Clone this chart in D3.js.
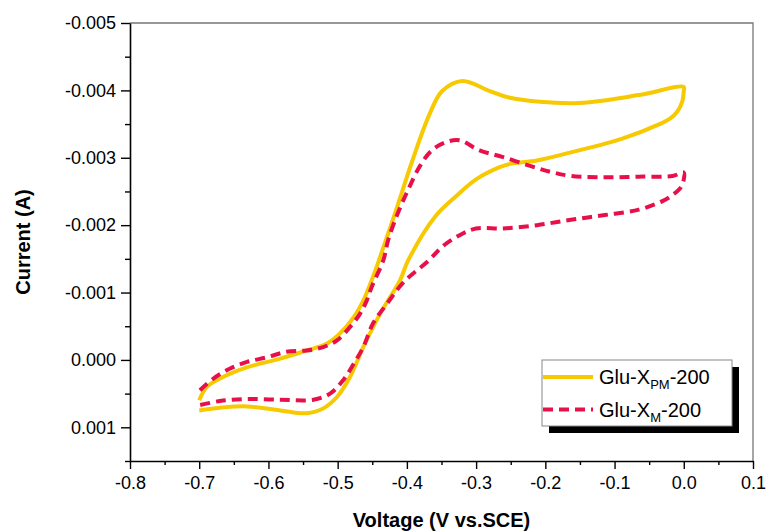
<!DOCTYPE html>
<html>
<head>
<meta charset="utf-8">
<script src="https://cdn.jsdelivr.net/npm/d3@7"></script>
<style>
  body { margin: 0; background: #fff; }
  svg { display: block; font-family: "Liberation Sans", Arial, sans-serif; }
</style>
</head>
<body>
<svg id="chart" width="766" height="532"></svg>
<script>
// CV data (voltage in V, current in A)
const yellowV = [-0.700,-0.689,-0.665,-0.631,-0.583,-0.545,-0.516,-0.497,-0.477,-0.463,-0.451,-0.442,-0.417,-0.393,-0.368,-0.349,-0.320,-0.280,-0.251,-0.158,-0.065,0.000,0.000,-0.002,-0.009,-0.020,-0.035,-0.090,-0.163,-0.212,-0.251,-0.266,-0.300,-0.329,-0.359,-0.398,-0.410,-0.439,-0.463,-0.482,-0.501,-0.521,-0.545,-0.583,-0.631,-0.670,-0.700];
const yellowI = [0.00060,0.00040,0.00025,0.00011,-0.00002,-0.00014,-0.00024,-0.00039,-0.00063,-0.00088,-0.00118,-0.00143,-0.00218,-0.00293,-0.00363,-0.00399,-0.00414,-0.00399,-0.00389,-0.00381,-0.00393,-0.00405,-0.00399,-0.00384,-0.00369,-0.00358,-0.00350,-0.00328,-0.00308,-0.00296,-0.00291,-0.00286,-0.00268,-0.00243,-0.00213,-0.00148,-0.00118,-0.00068,-0.00019,0.00025,0.00055,0.00072,0.00079,0.00075,0.00069,0.00071,0.00075];

const redV = [-0.699,-0.680,-0.656,-0.631,-0.602,-0.574,-0.545,-0.521,-0.501,-0.482,-0.468,-0.458,-0.451,-0.434,-0.427,-0.413,-0.398,-0.381,-0.364,-0.344,-0.324,-0.295,-0.261,-0.222,-0.192,-0.163,-0.114,-0.065,-0.016,0.000,0.000,-0.005,-0.016,-0.030,-0.065,-0.114,-0.163,-0.212,-0.261,-0.300,-0.324,-0.349,-0.368,-0.405,-0.429,-0.449,-0.463,-0.477,-0.492,-0.511,-0.535,-0.583,-0.631,-0.670,-0.699];
const redI = [0.00045,0.00028,0.00013,0.00003,-0.00004,-0.00012,-0.00014,-0.00019,-0.00029,-0.00049,-0.00068,-0.00088,-0.00108,-0.00148,-0.00178,-0.00218,-0.00253,-0.00288,-0.00311,-0.00323,-0.00326,-0.00311,-0.00301,-0.00288,-0.00279,-0.00273,-0.00271,-0.00272,-0.00273,-0.00278,-0.00268,-0.00255,-0.00245,-0.00236,-0.00223,-0.00215,-0.00208,-0.00200,-0.00195,-0.00195,-0.00185,-0.00168,-0.00148,-0.00115,-0.00083,-0.00054,-0.00019,0.00006,0.00030,0.00050,0.00059,0.00059,0.00058,0.00061,0.00067];

const xTicks = [-0.8,-0.7,-0.6,-0.5,-0.4,-0.3,-0.2,-0.1,0.0,0.1];
const yTicks = [-0.005,-0.004,-0.003,-0.002,-0.001,0.000,0.001];
const seriesNames = ["Glu-X|PM|-200", "Glu-X|M|-200"];
const seriesColors = ["#f7c900", "#e8104a"];

const svg = d3.select("#chart");
const mLeft = 130, mRight = 753, mTop = 23, mBottom = 461;

const x = d3.scaleLinear().domain([-0.8, 0.1]).range([mLeft, mRight]);
const y = d3.scaleLinear().domain([-0.005, 0.0015]).range([mTop, mBottom]);

const fmt = (f) => (d) => d3.format(f)(d).replace("\u2212", "-");

// top/right frame
svg.append("path")
  .attr("d", `M${mLeft},${mTop}H${mRight}V${mBottom}`)
  .attr("fill", "none").attr("stroke", "#777").attr("stroke-width", 1.3);

// minor ticks
svg.append("g").attr("transform", `translate(0,${mBottom})`)
  .call(d3.axisBottom(x).tickValues(d3.range(-0.75, 0.1, 0.1)).tickSize(4).tickFormat("").tickSizeOuter(0))
  .call(g => g.select(".domain").remove());
svg.append("g").attr("transform", `translate(${mLeft},0)`)
  .call(d3.axisLeft(y).tickValues(d3.range(-0.0045, 0.0016, 0.001)).tickSize(5).tickFormat("").tickSizeOuter(0))
  .call(g => g.select(".domain").remove());

svg.append("g").attr("transform", `translate(0,${mBottom})`)
  .call(d3.axisBottom(x).tickValues(xTicks).tickFormat(fmt(".1f")).tickSize(8).tickPadding(7).tickSizeOuter(0));
svg.append("g").attr("transform", `translate(${mLeft},0)`)
  .call(d3.axisLeft(y).tickValues(yTicks).tickFormat(fmt(".3f")).tickSize(9).tickPadding(5).tickSizeOuter(0));

svg.selectAll(".tick line").attr("stroke", "#000").attr("stroke-width", 1.4);
svg.selectAll(".domain").attr("stroke", "#000").attr("stroke-width", 1.6);
svg.selectAll(".tick text").attr("font-size", 18).attr("fill", "#000")
  .attr("font-family", "'Liberation Sans', Arial, sans-serif");

// axis titles
svg.append("text").attr("x", (mLeft + mRight) / 2).attr("y", 527)
  .attr("text-anchor", "middle").attr("font-size", 20).attr("font-weight", "bold")
  .text("Voltage (V vs.SCE)");
svg.append("text").attr("transform", `translate(30,${(mTop + mBottom) / 2}) rotate(-90)`)
  .attr("text-anchor", "middle").attr("font-size", 20).attr("font-weight", "bold")
  .text("Current (A)");

// curves
const line = d3.line().x(d => x(d[0])).y(d => y(d[1])).curve(d3.curveCatmullRom.alpha(0.5));
const yellow = yellowV.map((v, i) => [v, yellowI[i]]);
const red = redV.map((v, i) => [v, redI[i]]);

svg.append("path").datum(yellow).attr("d", line)
  .attr("fill", "none").attr("stroke", seriesColors[0]).attr("stroke-width", 4)
  .attr("stroke-linejoin", "round");
svg.append("path").datum(red).attr("d", line)
  .attr("fill", "none").attr("stroke", seriesColors[1]).attr("stroke-width", 4)
  .attr("stroke-dasharray", "10,6");

// legend
const lg = svg.append("g").attr("transform", "translate(542,360)");
lg.append("rect").attr("x", 7).attr("y", 7).attr("width", 190).attr("height", 66).attr("fill", "#000");
lg.append("rect").attr("width", 190).attr("height", 66).attr("fill", "#fff")
  .attr("stroke", "#888").attr("stroke-width", 1);

seriesNames.forEach((name, i) => {
  const yy = 17 + i * 32.5;
  lg.append("line").attr("x1", 1).attr("x2", 51).attr("y1", yy).attr("y2", yy)
    .attr("stroke", seriesColors[i]).attr("stroke-width", 4)
    .attr("stroke-dasharray", i === 1 ? "10,6" : null);
  const parts = name.split("|");
  const t = lg.append("text").attr("x", 57).attr("y", yy + 7).attr("font-size", 20).attr("fill", "#000");
  t.append("tspan").text(parts[0]);
  t.append("tspan").attr("font-size", 13).attr("dy", 5).text(parts[1]);
  t.append("tspan").attr("dy", -5).text(parts[2]);
});
</script>
</body>
</html>
